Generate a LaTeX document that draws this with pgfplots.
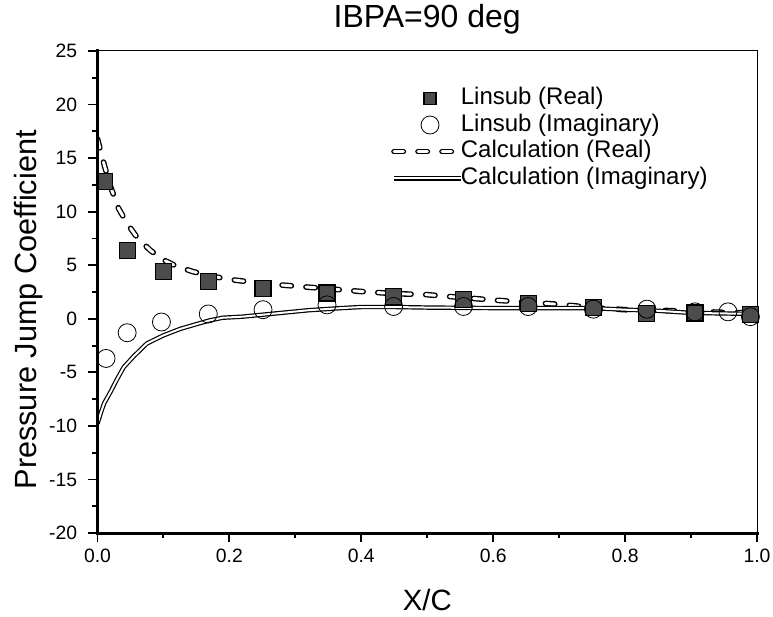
\documentclass[border=0pt]{standalone}
\usepackage{fontspec}
\setmainfont{Liberation Sans}
\usepackage{pgfplots}
\pgfplotsset{compat=1.18}

\pgfplotsset{
  sqlegend/.style={legend image code/.code={\draw[##1, mark size=4.5pt] plot coordinates {(27pt,0pt)};}},
  marklegend/.style={legend image code/.code={\draw[##1] plot coordinates {(27pt,0pt)};}},
  linelegend/.style={legend image code/.code={\draw[##1] (0pt,0pt) -- (50pt,0pt);}},
}

\pgfplotstableread{
x      y
0.011  12.8
0.045  6.4
0.100  4.4
0.168  3.5
0.251  2.8
0.348  2.4
0.449  2.1
0.555  1.8
0.653  1.4
0.752  1.05
0.833  0.5
0.906  0.55
0.990  0.4
}\linsubreal

\pgfplotstableread{
x      y
0.013  -3.7
0.045  -1.3
0.097  -0.3
0.168  0.45
0.251  0.85
0.348  1.3
0.449  1.15
0.555  1.15
0.653  1.15
0.752  0.9
0.833  0.9
0.906  0.65
0.956  0.65
0.990  0.2
}\linsubimag

\pgfplotstableread{
x      y
0.000  16.8
0.005  15.6
0.011  14.2
0.020  12.3
0.032  10.3
0.045  8.9
0.060  7.6
0.080  6.4
0.100  5.5
0.120  4.9
0.145  4.4
0.175  3.95
0.210  3.6
0.250  3.3
0.300  3.05
0.350  2.8
0.400  2.55
0.450  2.35
0.500  2.25
0.550  2.0
0.600  1.75
0.650  1.55
0.700  1.35
0.750  1.05
0.800  0.85
0.850  0.8
0.900  0.7
0.950  0.6
1.000  0.55
}\calcreal

\pgfplotstableread{
x      y
0.000  -9.8
0.005  -8.8
0.010  -7.9
0.020  -6.8
0.030  -5.6
0.040  -4.5
0.055  -3.5
0.075  -2.3
0.100  -1.55
0.125  -0.95
0.150  -0.5
0.170  -0.15
0.190  0.1
0.220  0.2
0.270  0.5
0.320  0.8
0.370  1.0
0.400  1.1
0.450  1.1
0.500  1.05
0.600  1.0
0.700  1.0
0.750  1.0
0.800  0.85
0.850  0.75
0.900  0.55
0.950  0.5
1.000  0.45
}\calcimag

\begin{document}
\begin{tikzpicture}
  \begin{axis}[
      scale only axis,
      width=494.6pt, height=361.5pt,
      xmin=0, xmax=1, ymin=-20, ymax=25,
      xtick={0,0.2,0.4,0.6,0.8,1},
      ytick={-20,-15,-10,-5,0,5,10,15,20,25},
      minor x tick num=1, minor y tick num=1,
      xtick pos=bottom, ytick pos=left,
      tick align=outside,
      major tick length=6.75pt, minor tick length=3.75pt,
      every tick/.style={black, line width=1.4pt},
      axis line style={line width=0.75pt},
      /pgf/number format/assume math mode=true,
      x tick label style={/pgf/number format/.cd, fixed, fixed zerofill, precision=1, /tikz/.cd, yshift=-2pt},
      y tick label style={xshift=-5pt},
      tick label style={font=\fontsize{14.5}{16}\selectfont},
      title={IBPA=90 deg},
      title style={font=\fontsize{24}{28}\selectfont, at={(axis description cs:0.5,1)}, anchor=base, yshift=11.5pt},
      xlabel={X/C},
      xlabel style={font=\fontsize{22}{26}\selectfont, at={(axis description cs:0.5,0)}, anchor=base, yshift=-57.75pt},
      ylabel={Pressure Jump Coefficient},
      ylabel style={font=\fontsize{23}{27}\selectfont, at={(axis description cs:-0.092,0.463)}, anchor=base},
      legend style={at={(axis description cs:0.445,0.93)}, anchor=north west,
        draw=none, fill=none, font=\fontsize{18}{21}\selectfont,
        row sep=0pt, column sep=-3pt, inner sep=0pt,
        nodes={inner sep=1pt, text height=13.5pt, text depth=4.5pt}},
      legend cell align=left,
      after end axis/.code={
        \draw[line width=2.25pt, line cap=rect] (rel axis cs:0,1) -- (rel axis cs:0,0) -- (rel axis cs:1,0);
      },
  ]
  \addplot[only marks, mark=square*, mark size=6pt,
    mark options={draw=black, fill=black!70, line width=0.9pt}, sqlegend]
    table {\linsubreal};
  \addlegendentry{Linsub (Real)}
  \addplot[only marks, mark=o, mark size=6.75pt,
    mark options={draw=black, line width=0.6pt}, marklegend]
    table {\linsubimag};
  \addlegendentry{Linsub (Imaginary)}
  \addplot[draw=black, line width=1pt, double=white, double distance=2.2pt,
    line cap=round, dash pattern=on 7pt off 11pt, mark=none, linelegend]
    table {\calcreal};
  \addlegendentry{Calculation (Real)}
  \addplot[draw=black, line width=0.9pt, double=white, double distance=1.5pt,
    mark=none, linelegend]
    table {\calcimag};
  \addlegendentry{Calculation (Imaginary)}
  \end{axis}
  \pgfresetboundingbox
  \path[use as bounding box] ([xshift=-73.1pt,yshift=-62.25pt]current axis.south west)
    rectangle ([xshift=12pt,yshift=38.25pt]current axis.north east);
\end{tikzpicture}
\end{document}
